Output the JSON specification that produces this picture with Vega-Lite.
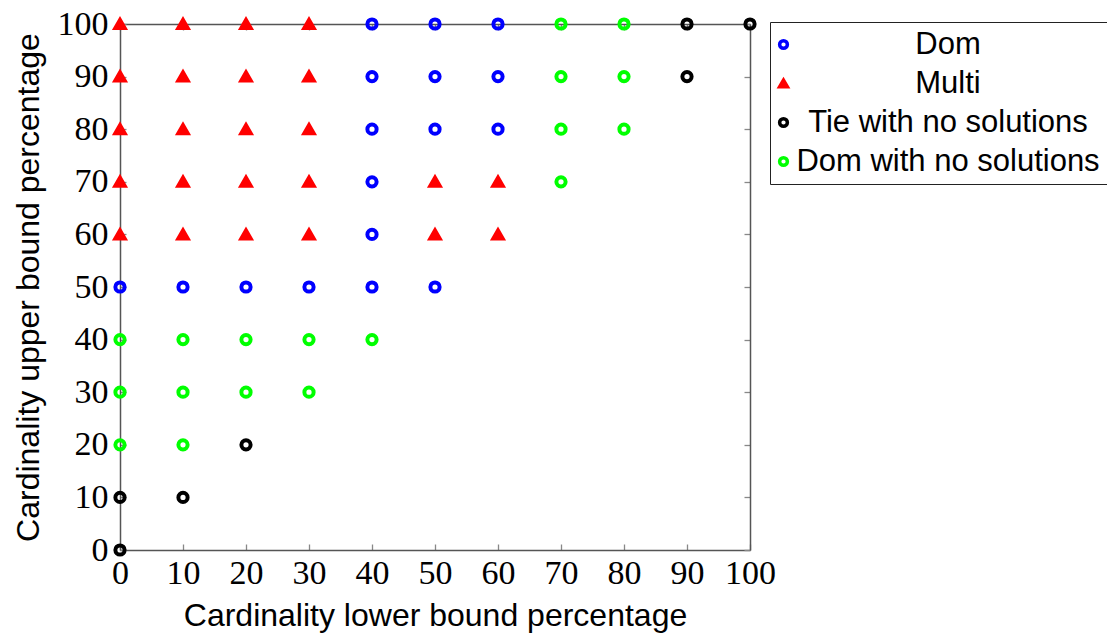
{
  "$schema": "https://vega.github.io/schema/vega-lite/v6.json",
  "width": 630,
  "height": 526,
  "autosize": "none",
  "padding": {"left": 120, "top": 24, "right": 357, "bottom": 83},
  "background": "white",
  "config": {
    "view": {"stroke": null},
    "axis": {
      "grid": false,
      "labelFont": "Liberation Serif",
      "labelFontSize": 34,
      "labelColor": "black",
      "labelFlush": false,
      "labelOverlap": false,
      "tickColor": "#888888",
      "tickSize": -6,
      "tickWidth": 1.3,
      "domainColor": "#555555",
      "domainWidth": 1.5,
      "titleFont": "Liberation Sans",
      "titleFontSize": 32,
      "titleFontWeight": "normal",
      "titleColor": "black"
    },
    "legend": {
      "labelFont": "Liberation Sans",
      "labelFontSize": 31,
      "labelColor": "black",
      "labelLimit": 0
    }
  },
  "data": {
    "values": [
      {"l": 0, "u": 100, "s": "Multi"}, {"l": 10, "u": 100, "s": "Multi"}, {"l": 20, "u": 100, "s": "Multi"}, {"l": 30, "u": 100, "s": "Multi"},
      {"l": 0, "u": 90, "s": "Multi"}, {"l": 10, "u": 90, "s": "Multi"}, {"l": 20, "u": 90, "s": "Multi"}, {"l": 30, "u": 90, "s": "Multi"},
      {"l": 0, "u": 80, "s": "Multi"}, {"l": 10, "u": 80, "s": "Multi"}, {"l": 20, "u": 80, "s": "Multi"}, {"l": 30, "u": 80, "s": "Multi"},
      {"l": 0, "u": 70, "s": "Multi"}, {"l": 10, "u": 70, "s": "Multi"}, {"l": 20, "u": 70, "s": "Multi"}, {"l": 30, "u": 70, "s": "Multi"},
      {"l": 0, "u": 60, "s": "Multi"}, {"l": 10, "u": 60, "s": "Multi"}, {"l": 20, "u": 60, "s": "Multi"}, {"l": 30, "u": 60, "s": "Multi"},
      {"l": 50, "u": 70, "s": "Multi"}, {"l": 60, "u": 70, "s": "Multi"}, {"l": 50, "u": 60, "s": "Multi"}, {"l": 60, "u": 60, "s": "Multi"},
      {"l": 40, "u": 100, "s": "Dom"}, {"l": 50, "u": 100, "s": "Dom"}, {"l": 60, "u": 100, "s": "Dom"},
      {"l": 40, "u": 90, "s": "Dom"}, {"l": 50, "u": 90, "s": "Dom"}, {"l": 60, "u": 90, "s": "Dom"},
      {"l": 40, "u": 80, "s": "Dom"}, {"l": 50, "u": 80, "s": "Dom"}, {"l": 60, "u": 80, "s": "Dom"},
      {"l": 40, "u": 70, "s": "Dom"}, {"l": 40, "u": 60, "s": "Dom"},
      {"l": 0, "u": 50, "s": "Dom"}, {"l": 10, "u": 50, "s": "Dom"}, {"l": 20, "u": 50, "s": "Dom"}, {"l": 30, "u": 50, "s": "Dom"}, {"l": 40, "u": 50, "s": "Dom"}, {"l": 50, "u": 50, "s": "Dom"},
      {"l": 70, "u": 100, "s": "Dom with no solutions"}, {"l": 80, "u": 100, "s": "Dom with no solutions"},
      {"l": 70, "u": 90, "s": "Dom with no solutions"}, {"l": 80, "u": 90, "s": "Dom with no solutions"},
      {"l": 70, "u": 80, "s": "Dom with no solutions"}, {"l": 80, "u": 80, "s": "Dom with no solutions"},
      {"l": 70, "u": 70, "s": "Dom with no solutions"},
      {"l": 0, "u": 40, "s": "Dom with no solutions"}, {"l": 10, "u": 40, "s": "Dom with no solutions"}, {"l": 20, "u": 40, "s": "Dom with no solutions"}, {"l": 30, "u": 40, "s": "Dom with no solutions"}, {"l": 40, "u": 40, "s": "Dom with no solutions"},
      {"l": 0, "u": 30, "s": "Dom with no solutions"}, {"l": 10, "u": 30, "s": "Dom with no solutions"}, {"l": 20, "u": 30, "s": "Dom with no solutions"}, {"l": 30, "u": 30, "s": "Dom with no solutions"},
      {"l": 0, "u": 20, "s": "Dom with no solutions"}, {"l": 10, "u": 20, "s": "Dom with no solutions"},
      {"l": 90, "u": 100, "s": "Tie with no solutions"}, {"l": 100, "u": 100, "s": "Tie with no solutions"},
      {"l": 90, "u": 90, "s": "Tie with no solutions"}, {"l": 20, "u": 20, "s": "Tie with no solutions"},
      {"l": 0, "u": 10, "s": "Tie with no solutions"}, {"l": 10, "u": 10, "s": "Tie with no solutions"},
      {"l": 0, "u": 0, "s": "Tie with no solutions"}
    ]
  },
  "layer": [
    {
      "mark": {"type": "point", "filled": false, "strokeWidth": 4, "opacity": 1, "size": 85},
      "encoding": {
        "x": {
          "field": "l", "type": "quantitative",
          "scale": {"domain": [0, 100], "nice": false, "zero": false},
          "axis": {"orient": "bottom", "values": [0, 10, 20, 30, 40, 50, 60, 70, 80, 90, 100], "title": "Cardinality lower bound percentage", "labelPadding": 12, "titlePadding": 10}
        },
        "y": {
          "field": "u", "type": "quantitative",
          "scale": {"domain": [0, 100], "nice": false, "zero": false},
          "axis": {"orient": "left", "values": [0, 10, 20, 30, 40, 50, 60, 70, 80, 90, 100], "title": "Cardinality upper bound percentage", "labelPadding": 18, "titlePadding": 12}
        },
        "color": {
          "field": "s", "type": "nominal",
          "scale": {"domain": ["Dom", "Multi", "Tie with no solutions", "Dom with no solutions"], "range": ["#0000ff", "#ff0000", "#000000", "#00ff00"]},
          "legend": {"title": null, "orient": "none", "legendX": 650, "legendY": -2, "strokeColor": "#222222", "padding": 7, "labelAlign": "center", "labelOffset": 149, "rowPadding": 7, "symbolStrokeWidth": 3.5, "symbolSize": 60, "symbolOffset": -9}
        },
        "shape": {
          "field": "s", "type": "nominal",
          "scale": {"domain": ["Dom", "Multi", "Tie with no solutions", "Dom with no solutions"], "range": ["circle", "triangle-up", "circle", "circle"]},
          "legend": {"title": null, "orient": "none", "legendX": 650, "legendY": -2, "strokeColor": "#222222", "padding": 7, "labelAlign": "center", "labelOffset": 149, "rowPadding": 7, "symbolStrokeWidth": 3.5, "symbolSize": 60, "symbolOffset": -9}
        },
        "fill": {
          "field": "s", "type": "nominal",
          "scale": {"domain": ["Dom", "Multi", "Tie with no solutions", "Dom with no solutions"], "range": ["transparent", "#ff0000", "transparent", "transparent"]},
          "legend": {"title": null, "orient": "none", "legendX": 650, "legendY": -2, "strokeColor": "#222222", "padding": 7, "labelAlign": "center", "labelOffset": 149, "rowPadding": 7, "symbolStrokeWidth": 3.5, "symbolSize": 60, "symbolOffset": -9}
        }
      }
    },
    {
      "mark": {"type": "point", "opacity": 0},
      "encoding": {
        "x": {
          "field": "l", "type": "quantitative",
          "axis": {"orient": "top", "values": [0, 10, 20, 30, 40, 50, 60, 70, 80, 90, 100], "labels": false, "title": null}
        },
        "y": {
          "field": "u", "type": "quantitative",
          "axis": {"orient": "right", "values": [0, 10, 20, 30, 40, 50, 60, 70, 80, 90, 100], "labels": false, "title": null}
        }
      }
    }
  ],
  "resolve": {"axis": {"x": "independent", "y": "independent"}}
}
